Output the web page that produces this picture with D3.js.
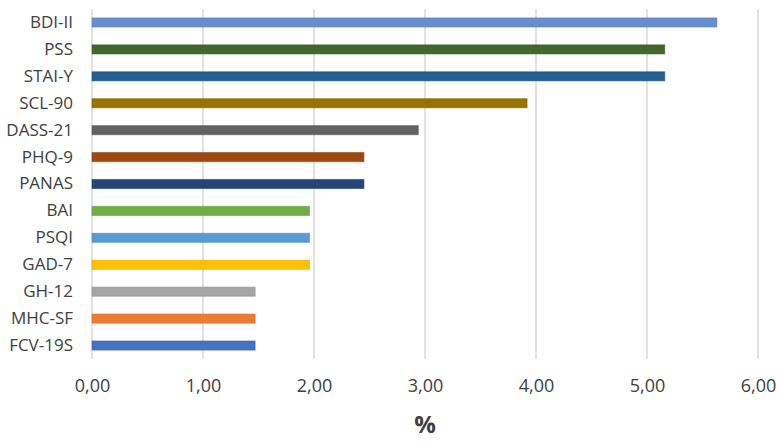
<!DOCTYPE html>
<html>
<head>
<meta charset="utf-8">
<script src="https://cdn.jsdelivr.net/npm/d3@7"></script>
<style>
  html, body { margin: 0; padding: 0; background: #fff; }
  text { font-family: "Open Sans", sans-serif; fill: #404040; }
</style>
</head>
<body>
<svg id="chart"></svg>
<script>
const categories = ['BDI-II', 'PSS', 'STAI-Y', 'SCL-90', 'DASS-21', 'PHQ-9', 'PANAS',
  'BAI', 'PSQI', 'GAD-7', 'GH-12', 'MHC-SF', 'FCV-19S'];
const values = [5.63, 5.16, 5.16, 3.92, 2.94, 2.45, 2.45, 1.96, 1.96, 1.96, 1.47, 1.47, 1.47];
const colors = ['#698ed0', '#43682b', '#255e91', '#997300', '#636363', '#9e480e', '#264478',
  '#70ad47', '#5b9bd5', '#ffc000', '#a5a5a5', '#ed7d31', '#4472c4'];
const xTicks = [0, 1, 2, 3, 4, 5, 6];
const xTitle = '%';

const width = 780, height = 444;
const margin = { top: 9, right: 22, bottom: 85, left: 92 };

const svg = d3.select('#chart')
  .attr('width', width)
  .attr('height', height)
  .attr('viewBox', `0 0 ${width} ${height}`);

const x = d3.scaleLinear()
  .domain([0, 6])
  .range([margin.left, width - margin.right]);

const y = d3.scaleBand()
  .domain(categories)
  .range([margin.top, height - margin.bottom])
  .paddingInner(0.66)
  .paddingOuter(0.33);

// Gridlines

svg.append('g')
  .selectAll('line')
  .data(xTicks)
  .join('line')
  .attr('x1', d => x(d))
  .attr('x2', d => x(d))
  .attr('y1', margin.top)
  .attr('y2', height - margin.bottom)
  .attr('stroke', '#d9d9d9')
  .attr('stroke-width', 1.5);

// Bars

svg.append('g')
  .selectAll('rect')
  .data(values)
  .join('rect')
  .attr('x', x(0))
  .attr('y', (d, i) => y(categories[i]))
  .attr('width', d => x(d) - x(0))
  .attr('height', y.bandwidth())
  .attr('fill', (d, i) => colors[i])
  .attr('stroke', (d, i) => d3.color(colors[i]).darker(0.5))
  .attr('stroke-opacity', 0.5)
  .attr('stroke-width', 1);

// Axes

const xAxis = d3.axisBottom(x)
  .tickValues(xTicks)
  .tickSize(0)
  .tickPadding(20)
  .tickFormat(d => d3.format('.2f')(d).replace('.', ','));

svg.append('g')
  .attr('transform', `translate(0, ${height - margin.bottom})`)
  .call(xAxis)
  .call(g => g.select('.domain').remove())
  .selectAll('text')
  .attr('font-size', 18)
  .style('font-family', '"Open Sans", sans-serif')
  .attr('fill', '#404040');

const yAxis = d3.axisLeft(y)
  .tickSize(0)
  .tickPadding(19);

svg.append('g')
  .attr('transform', `translate(${margin.left}, 0)`)
  .call(yAxis)
  .call(g => g.select('.domain').remove())
  .selectAll('text')
  .attr('font-size', 17)
  .style('font-family', '"Open Sans", sans-serif')
  .attr('fill', '#404040');

svg.append('text')
  .attr('x', x(3))
  .attr('y', 433)
  .attr('text-anchor', 'middle')
  .attr('font-size', 24)
  .attr('font-weight', 'bold')
  .text(xTitle);
</script>
</body>
</html>
